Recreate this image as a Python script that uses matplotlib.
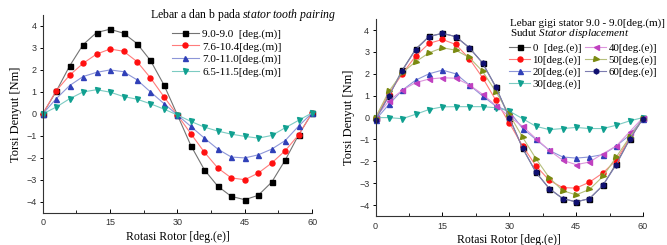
import matplotlib.pyplot as plt
import matplotlib.colors as mcolors
import numpy as np

plt.rcParams['font.family'] = ['Liberation Serif', 'DejaVu Serif']
plt.rcParams['mathtext.fontset'] = 'custom'
plt.rcParams['mathtext.rm'] = 'Liberation Serif'
plt.rcParams['mathtext.it'] = 'Liberation Serif:italic'

# rotor angle, every 3 deg.(e)
angle = list(range(0, 61, 3))

# left: tooth pairing widths
left_labels = ['9.0-9.0  [deg.(m)]', '7.6-10.4[deg.(m)]', '7.0-11.0[deg.(m)]', '6.5-11.5[deg.(m)]']
w_90_90 = [0, 1.02, 2.18, 3.15, 3.70, 3.85, 3.67, 3.20, 2.43, 1.32, -0.05,
           -1.44, -2.54, -3.29, -3.75, -3.90, -3.70, -3.10, -2.10, -0.95, 0.05]
w_76_104 = [0, 1.05, 1.76, 2.30, 2.72, 2.95, 2.85, 2.38, 1.64, 0.78, -0.05,
            -0.90, -1.74, -2.46, -2.91, -2.99, -2.69, -2.23, -1.67, -0.95, 0.05]
w_70_110 = [0, 0.69, 1.29, 1.70, 1.89, 2.00, 1.92, 1.55, 1.00, 0.47, -0.05,
            -0.57, -1.10, -1.60, -1.96, -2.00, -1.86, -1.60, -1.21, -0.55, 0.05]
w_65_115 = [0, 0.31, 0.69, 1.00, 1.10, 0.99, 0.79, 0.67, 0.46, 0.22, -0.05,
            -0.34, -0.60, -0.78, -0.92, -1.02, -1.10, -0.98, -0.63, -0.29, 0.05]

# right: stator displacement angle
right_labels = ['0  [deg.(e)]', '10[deg.(e)]', '20[deg.(e)]', '30[deg.(e)]',
                '40[deg.(e)]', '50[deg.(e)]', '60[deg.(e)]']
d0 = [0, 1.00, 2.17, 3.13, 3.71, 3.85, 3.70, 3.20, 2.50, 1.39, 0.0,
      -1.40, -2.50, -3.25, -3.70, -3.85, -3.70, -3.10, -2.10, -1.00, 0.0]
d10 = [0, 1.10, 2.00, 2.81, 3.39, 3.57, 3.34, 2.70, 1.83, 0.79, -0.24,
       -1.30, -2.21, -2.87, -3.20, -3.22, -2.95, -2.53, -1.95, -0.95, -0.05]
d20 = [-0.10, 0.60, 1.25, 1.71, 2.00, 2.17, 2.00, 1.50, 0.99, 0.52, 0.29,
       -0.50, -1.00, -1.50, -1.80, -1.85, -1.80, -1.69, -1.30, -0.80, -0.05]
d30 = [0, 0.0, -0.05, 0.15, 0.37, 0.49, 0.50, 0.50, 0.50, 0.45, 0.30,
       -0.05, -0.40, -0.55, -0.50, -0.45, -0.50, -0.50, -0.35, -0.15, 0.0]
d40 = [0, 0.76, 1.25, 1.60, 1.76, 1.82, 1.80, 1.50, 1.07, 0.55, 0.05,
       -0.40, -0.96, -1.50, -1.95, -2.15, -2.03, -1.65, -1.30, -0.65, 0.0]
d50 = [0, 1.20, 2.05, 2.55, 2.96, 3.19, 3.08, 2.75, 2.12, 1.18, 0.15,
       -0.90, -1.88, -2.75, -3.34, -3.53, -3.28, -2.69, -1.80, -0.90, -0.05]
d60 = [-0.10, 0.98, 2.15, 3.10, 3.70, 3.85, 3.70, 3.20, 2.50, 1.40, 0.0,
       -1.40, -2.50, -3.25, -3.70, -3.85, -3.70, -3.10, -2.15, -1.00, -0.05]

left_series = [w_90_90, w_76_104, w_70_110, w_65_115]
left_style = [('black', 's'), ('#ff1010', 'o'), ('#3040b8', '^'), ('#10a090', 'v')]

right_series = [d0, d10, d20, d30, d40, d50, d60]
right_style = [('black', 's'), ('#ff1010', 'o'), ('#3040b8', '^'), ('#10a090', 'v'),
               ('#c040c0', '<'), ('#7a8a10', '>'), ('#101070', 'h')]


def light(c, amt=0.45):
    r, g, b = mcolors.to_rgb(c)
    return (r + (1 - r) * amt, g + (1 - g) * amt, b + (1 - b) * amt)


def style_axes(ax):
    ax.set_xlim(0, 60)
    ax.set_ylim(-4.5, 4.5)
    ax.set_xticks([0, 15, 30, 45, 60])
    ax.set_xticks([7.5, 22.5, 37.5, 52.5], minor=True)
    ax.set_yticks([-4, -3, -2, -1, 0, 1, 2, 3, 4])
    ax.spines['top'].set_visible(False)
    ax.spines['right'].set_visible(False)
    for s in ['left', 'bottom']:
        ax.spines[s].set_linewidth(0.8)
        ax.spines[s].set_color('#333333')
    ax.tick_params(axis='x', direction='in', length=3, width=0.7, labelsize=6.5, pad=4)
    ax.tick_params(axis='x', which='minor', direction='in', length=2, width=0.6)
    ax.tick_params(axis='y', direction='out', length=2.5, width=0.7, labelsize=6.5, pad=2)
    for lab in ax.get_xticklabels() + ax.get_yticklabels():
        lab.set_family('Liberation Sans')
        lab.set_color('#333333')
    ax.set_xlabel('Rotasi Rotor [deg.(e)]', fontsize=8.5, labelpad=2.5)
    ax.set_ylabel('Torsi Denyut [Nm]', fontsize=9, labelpad=3)


fig = plt.figure(figsize=(6.67, 2.45), dpi=100)
ax1 = fig.add_axes([0.064, 0.131, 0.404, 0.808])
ax2 = fig.add_axes([0.563, 0.118, 0.401, 0.804])

for ys, (c, m), lab in zip(left_series, left_style, left_labels):
    ax1.plot(angle, ys, color=light(c), lw=0.8, marker=m, ms=3.6,
             mfc=c, mec=c, label=lab, clip_on=False)

for ys, (c, m), lab in zip(right_series, right_style, right_labels):
    ax2.plot(angle, ys, color=light(c), lw=0.8, marker=m, ms=3.6,
             mfc=c, mec=c, label=lab, clip_on=False)

style_axes(ax1)
style_axes(ax2)

fig.text(150 / 667, 1 - 15 / 245, r'Lebar a dan b pada $\mathit{stator\ tooth\ pairing}$',
         fontsize=8.5, va='center', ha='left')
ax1.legend(loc='upper left', bbox_to_anchor=(0.48, 0.93), frameon=False,
           fontsize=8, handlelength=2.4, handletextpad=0.3, labelspacing=0.25,
           borderaxespad=0, borderpad=0)

fig.text(510 / 667, 1 - 23 / 245, 'Lebar gigi stator 9.0 - 9.0[deg.(m)]',
         fontsize=8, va='center', ha='left')
fig.text(510 / 667, 1 - 34 / 245, r'Sudut $\mathit{Stator\ displacement}$',
         fontsize=8, va='center', ha='left')
ax2.legend(loc='upper left', bbox_to_anchor=(0.5, 0.88), frameon=False, ncol=2,
           fontsize=7.8, handlelength=1.9, handletextpad=0.25, labelspacing=0.2,
           columnspacing=0.4, borderaxespad=0, borderpad=0)

fig.savefig('out.png', dpi=100)
